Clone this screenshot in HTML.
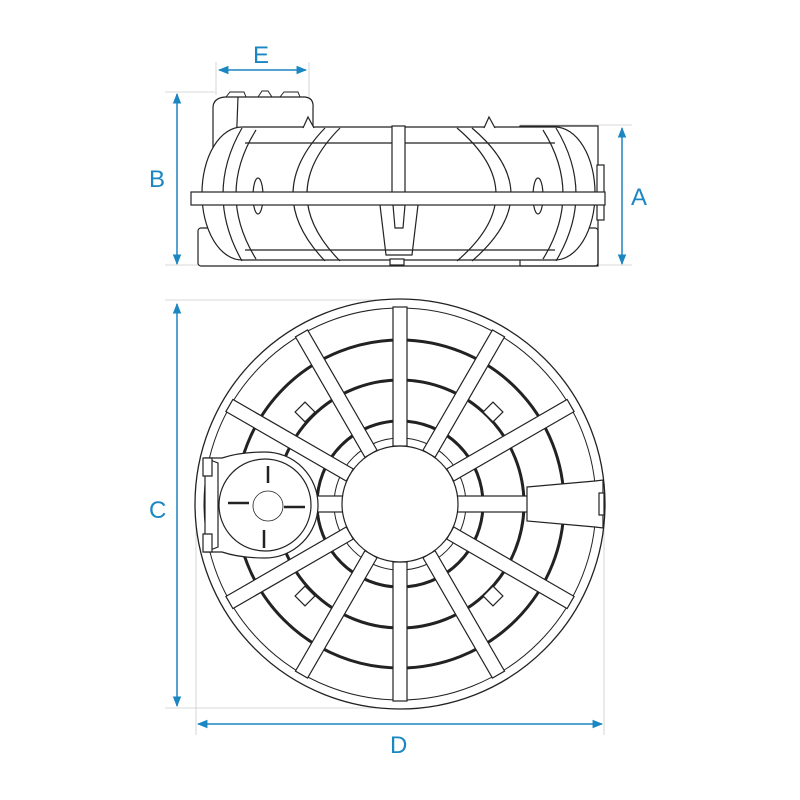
<!DOCTYPE html>
<html><head><meta charset="utf-8"><style>
html,body{margin:0;padding:0;background:#fff;width:800px;height:800px;overflow:hidden}
svg{display:block}
text{font-family:"Liberation Sans",sans-serif;fill:#1a86c2;font-size:24px}
</style></head><body>
<svg width="800" height="800" viewBox="0 0 800 800" xmlns="http://www.w3.org/2000/svg">
<defs>
<marker id="ar" viewBox="0 0 10 10" refX="9" refY="5" markerWidth="7" markerHeight="7" orient="auto-start-reverse"><path d="M0,1 L10,5 L0,9 z" fill="#1a86c2"/></marker>
</defs>
<g stroke="#ccc" stroke-width="0.8" fill="none">
<line x1="165" y1="92" x2="215" y2="92"/>
<line x1="520" y1="125" x2="632" y2="125"/>
<line x1="165" y1="265" x2="632" y2="265"/>
<line x1="165" y1="300" x2="400" y2="300"/>
<line x1="165" y1="708" x2="400" y2="708"/>
<line x1="196" y1="520" x2="196" y2="735"/>
<line x1="604" y1="520" x2="604" y2="735"/>
<line x1="216" y1="62" x2="216" y2="95"/>
<line x1="309" y1="62" x2="309" y2="130"/>
</g>
<g stroke="#1a86c2" stroke-width="1.5" fill="none">
<line x1="219" y1="70" x2="306" y2="70" marker-start="url(#ar)" marker-end="url(#ar)"/>
<line x1="177" y1="94" x2="177" y2="264" marker-start="url(#ar)" marker-end="url(#ar)"/>
<line x1="622" y1="128" x2="622" y2="264" marker-start="url(#ar)" marker-end="url(#ar)"/>
<line x1="177" y1="304" x2="177" y2="706" marker-start="url(#ar)" marker-end="url(#ar)"/>
<line x1="198" y1="724" x2="602" y2="724" marker-start="url(#ar)" marker-end="url(#ar)"/>
</g>
<text x="253" y="63">E</text>
<text x="149" y="187">B</text>
<text x="631" y="205">A</text>
<text x="149" y="518">C</text>
<text x="390" y="753">D</text>

<!-- SIDE VIEW -->
<g stroke="#222" stroke-width="1.2" fill="#fff">
<rect x="198" y="228" width="400" height="38" rx="3"/>
<rect x="520" y="126" width="78" height="140" fill="none"/>
<path d="M213,108 Q213,98 225,97 L305,97 Q314,98 313,108 L313,150 L213,190 Z"/>
<line x1="238" y1="97" x2="236" y2="150"/>
<path d="M226,97 L230,92 L244,92 L246,97 M258,97 L262,91 L268,91 L272,97 M280,97 L284,92 L298,92 L300,97" fill="none" stroke-width="1"/>
<rect x="202" y="127" width="393" height="133" rx="40" ry="66"/>
<line x1="245" y1="143" x2="555" y2="143" fill="none"/>
<line x1="245" y1="250" x2="555" y2="250" fill="none"/>
<g fill="none">
<path d="M242,128 Q204,194 242,261"/>
<path d="M256,130 Q216,194 256,259"/>
<path d="M556,128 Q596,194 556,261"/>
<path d="M543,130 Q583,194 543,259"/>
<path d="M325,128 Q261,194 325,261"/>
<path d="M340,128 Q274,194 340,261"/>
<path d="M457,128 Q535,194 457,261"/>
<path d="M472,128 Q550,194 472,261"/>
</g>
<ellipse cx="258" cy="196" rx="5" ry="18"/>
<ellipse cx="538" cy="196" rx="5" ry="18"/>
<path d="M303,128 L308,117 L314,128"/><path d="M484,128 L489,117 L495,128"/>
<path d="M380,205 L386,255 L412,255 L418,205" fill="none"/>
<path d="M393,205 L395,228 L403,228 L405,205" fill="none"/>
<rect x="392" y="126" width="13" height="79"/>
<rect x="597" y="165" width="7" height="55"/>
<rect x="191" y="192" width="414" height="13"/>
<rect x="390" y="259" width="14" height="6"/>
</g>

<!-- TOP VIEW -->
<g stroke="#222" fill="none">
<circle cx="400" cy="504" r="205" stroke-width="1.3" fill="#fff"/>
<circle cx="400" cy="504" r="196" stroke-width="1"/>
<circle cx="400" cy="504" r="164" stroke-width="3"/>
<circle cx="400" cy="504" r="124" stroke-width="3"/>
<circle cx="400" cy="504" r="83" stroke-width="3"/>
<circle cx="400" cy="504" r="66" stroke-width="1"/>
</g>
<g stroke="#222" stroke-width="1.2" fill="#fff">
<g transform="translate(400,504)">
<rect x="58" y="-7" width="139" height="14" transform="rotate(-30)"/>
<rect x="58" y="-7" width="139" height="14" transform="rotate(-60)"/>
<rect x="58" y="-7" width="139" height="14" transform="rotate(-90)"/>
<rect x="58" y="-7" width="139" height="14" transform="rotate(-120)"/>
<rect x="58" y="-7" width="139" height="14" transform="rotate(-150)"/>
<rect x="58" y="-7" width="139" height="14" transform="rotate(30)"/>
<rect x="58" y="-7" width="139" height="14" transform="rotate(60)"/>
<rect x="58" y="-7" width="139" height="14" transform="rotate(90)"/>
<rect x="58" y="-7" width="139" height="14" transform="rotate(120)"/>
<rect x="58" y="-7" width="139" height="14" transform="rotate(150)"/>
<rect x="56" y="-8" width="72" height="16"/>
<rect x="-90" y="-8" width="36" height="16"/>
</g>
<path d="M527,487 L595,481 L603,480 L603,528 L595,527 L527,521 Z"/>
<rect x="599" y="493" width="5" height="22"/>
<rect x="298" y="405" width="14" height="14" transform="rotate(45 305 412)"/>
<rect x="486" y="405" width="14" height="14" transform="rotate(45 493 412)"/>
<rect x="298" y="589" width="14" height="14" transform="rotate(45 305 596)"/>
<rect x="486" y="589" width="14" height="14" transform="rotate(45 493 596)"/>
<path d="M205,458 L222,458 Q240,452 265,452 A53,53 0 1 1 265,558 Q240,558 222,552 L205,552 Z"/>
<path d="M205,458 L218,463 L218,547 L205,552" fill="none"/>
<path d="M203,458 L212,458 L212,476 L203,476 Z"/>
<path d="M203,534 L212,534 L212,552 L203,552 Z"/>
<circle cx="265" cy="505" r="46"/>
<circle cx="268" cy="506" r="15" stroke-width="0.8"/>
<g stroke-width="2.5">
<line x1="268" y1="466" x2="268" y2="483"/>
<line x1="264" y1="530" x2="264" y2="548"/>
<line x1="228" y1="503" x2="249" y2="503"/>
<line x1="284" y1="507" x2="305" y2="507"/>
</g>
<circle cx="400" cy="504" r="58"/>
</g>
</svg>
</body></html>
